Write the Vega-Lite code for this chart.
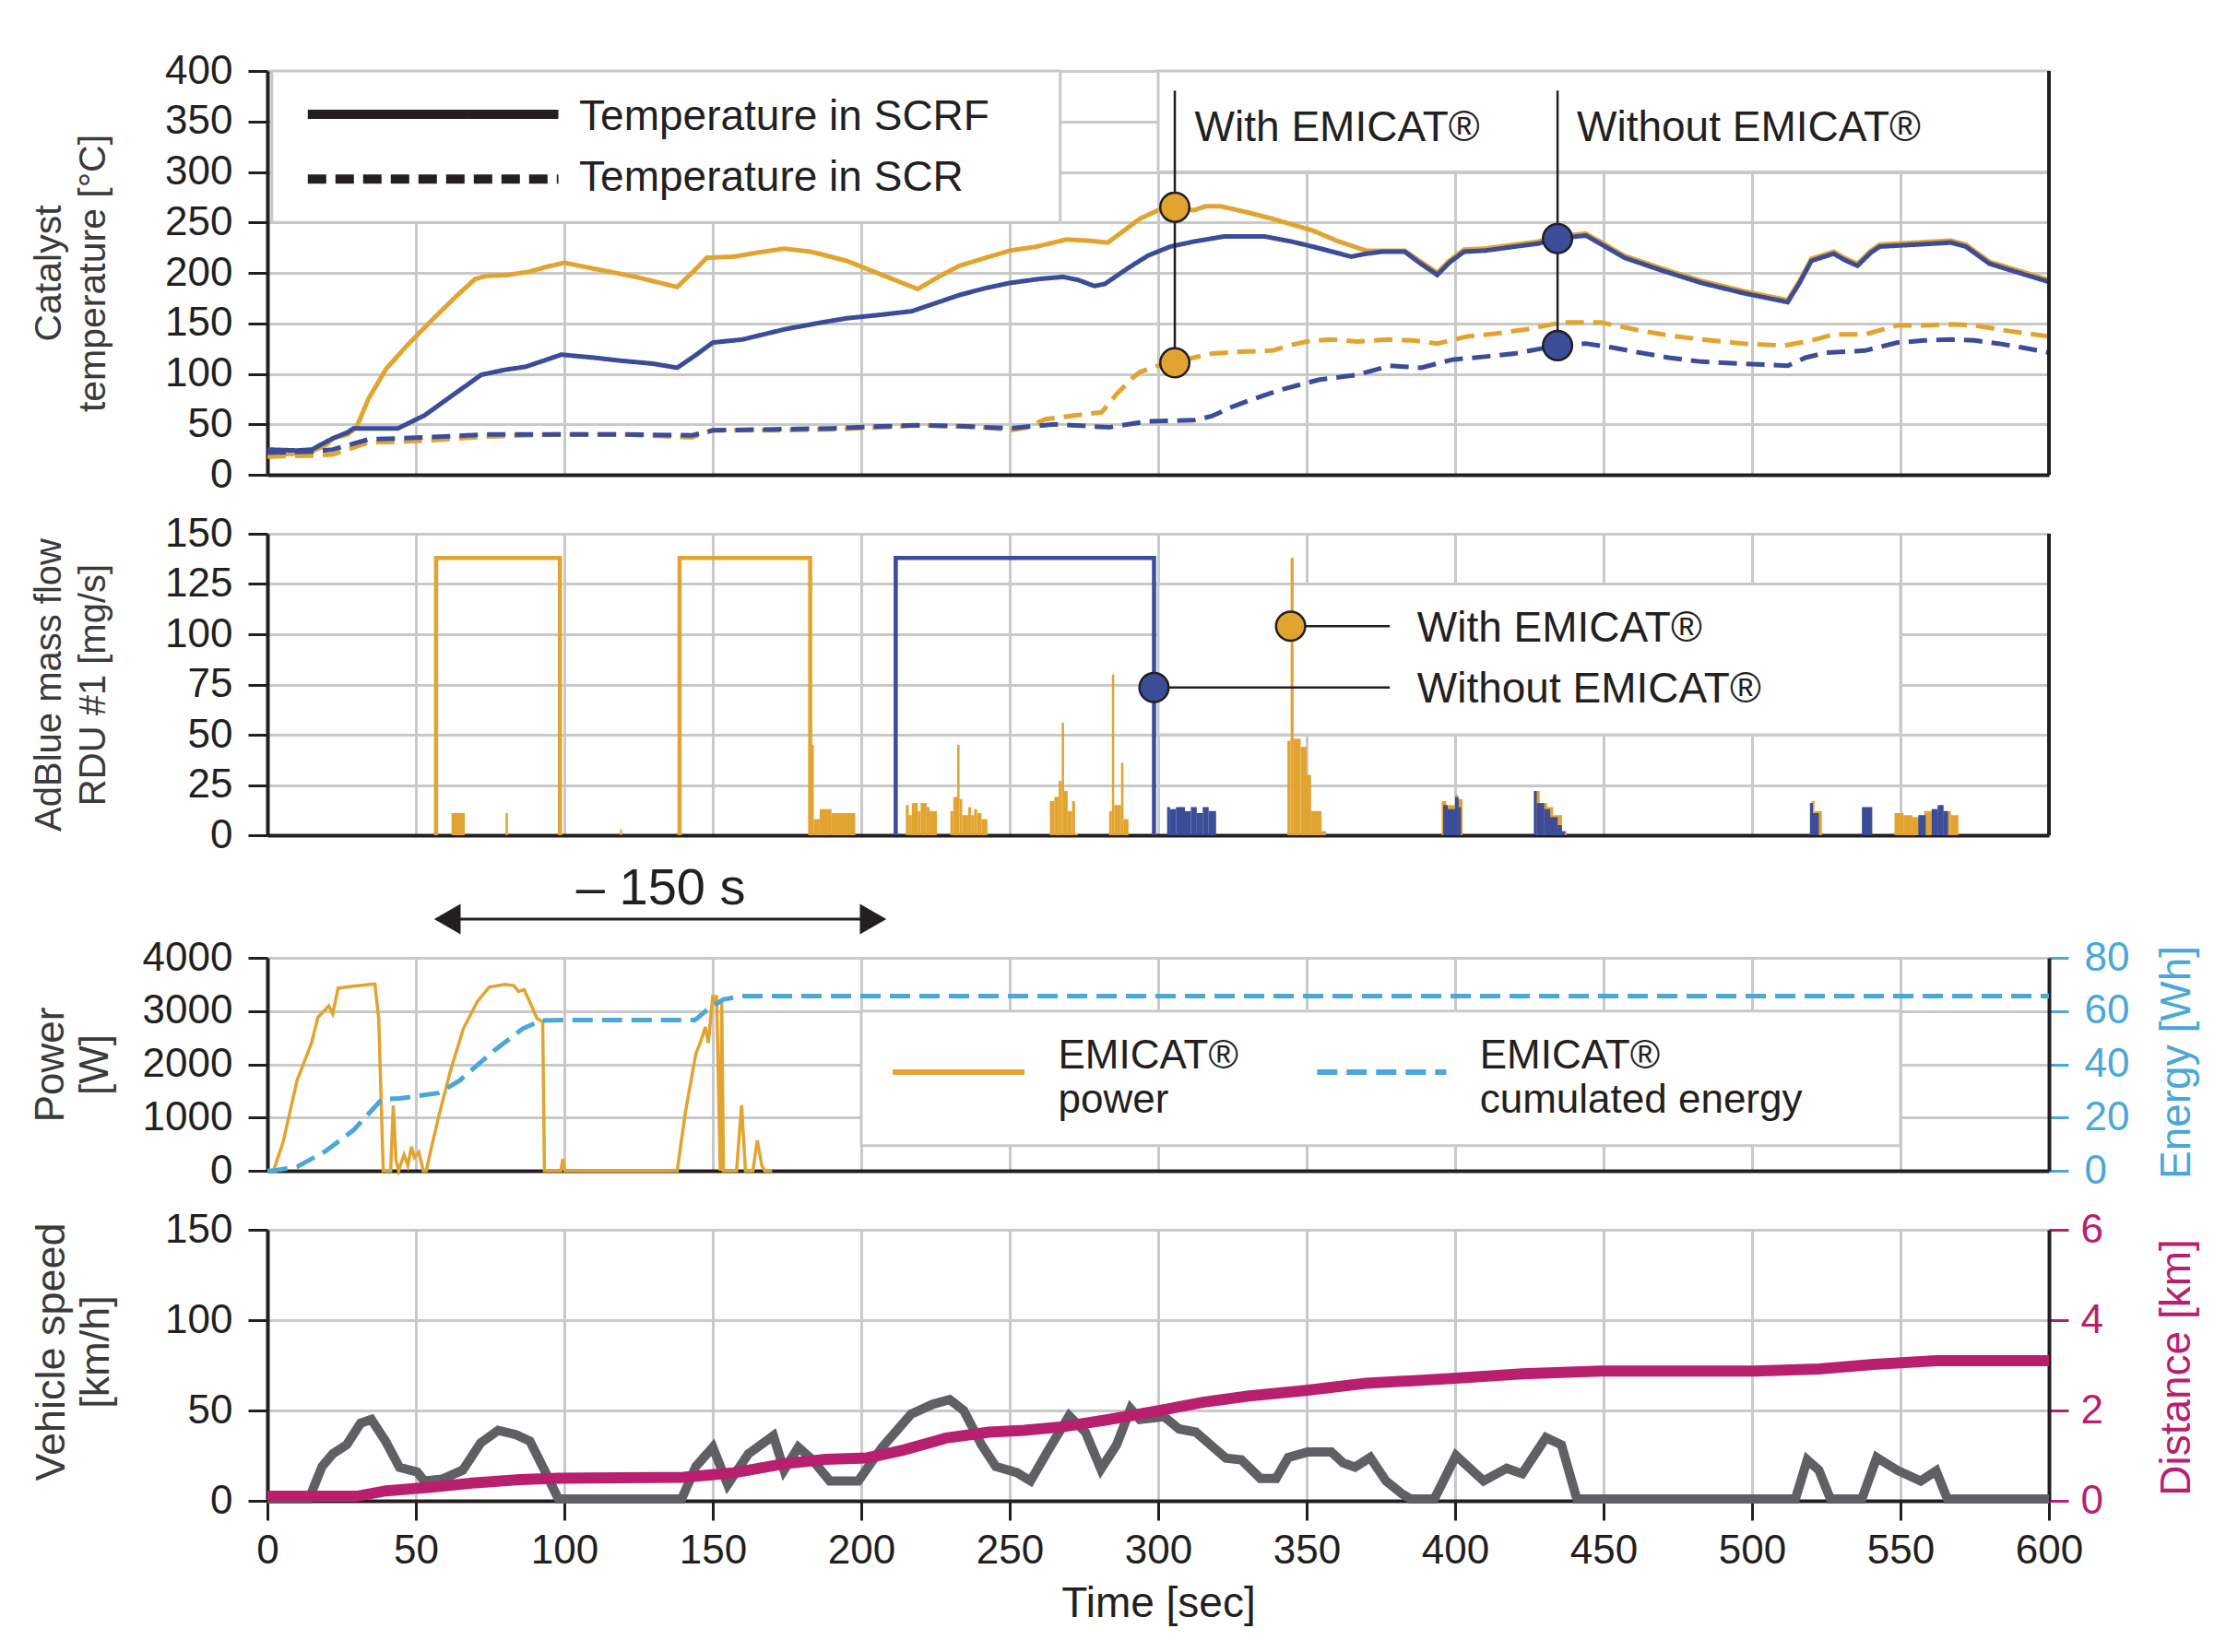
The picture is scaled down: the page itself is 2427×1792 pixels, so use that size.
{
 "$schema": "https://vega.github.io/schema/vega-lite/v6.json",
 "padding": {"left": 32, "top": 55, "right": 10, "bottom": 10},
 "background": "white",
 "bounds": "flush",
 "spacing": 64,
 "resolve": {"scale": {"x": "independent", "y": "independent"}},
 "config": {
  "view": {"stroke": null},
  "font": "Liberation Sans",
  "axis": {"gridColor": "#c9c9c9", "gridWidth": 3, "gridOpacity": 1, "domainColor": "#231f20", "domainWidth": 4, "tickColor": "#231f20", "tickWidth": 3, "tickSize": 21, "labelFont": "Liberation Sans", "labelFontSize": 44, "labelColor": "#231f20", "labelPadding": 17, "labelFlush": false, "labelOverlap": false, "format": "d", "titleFont": "Liberation Sans", "titleFontWeight": "normal", "titleFontSize": 42, "titleColor": "#3a3a3a", "titleLineHeight": 48},
  "text": {"font": "Liberation Sans", "fontSize": 46, "color": "#231f20"}
 },
 "datasets": {
  "temp": [
   {"t":0,"v":20,"cond":"With EMICAT®","loc":"SCRF"},{"t":10,"v":21,"cond":"With EMICAT®","loc":"SCRF"},{"t":15,"v":23,"cond":"With EMICAT®","loc":"SCRF"},{"t":20,"v":30,"cond":"With EMICAT®","loc":"SCRF"},{"t":22,"v":36,"cond":"With EMICAT®","loc":"SCRF"},{"t":27,"v":40,"cond":"With EMICAT®","loc":"SCRF"},{"t":30,"v":47,"cond":"With EMICAT®","loc":"SCRF"},{"t":34,"v":75,"cond":"With EMICAT®","loc":"SCRF"},{"t":40,"v":105,"cond":"With EMICAT®","loc":"SCRF"},{"t":47,"v":128,"cond":"With EMICAT®","loc":"SCRF"},{"t":55,"v":152,"cond":"With EMICAT®","loc":"SCRF"},{"t":64,"v":178,"cond":"With EMICAT®","loc":"SCRF"},{"t":70,"v":194,"cond":"With EMICAT®","loc":"SCRF"},{"t":74,"v":197,"cond":"With EMICAT®","loc":"SCRF"},{"t":81,"v":198,"cond":"With EMICAT®","loc":"SCRF"},{"t":88,"v":201,"cond":"With EMICAT®","loc":"SCRF"},{"t":94,"v":206,"cond":"With EMICAT®","loc":"SCRF"},{"t":100,"v":210,"cond":"With EMICAT®","loc":"SCRF"},{"t":112,"v":203,"cond":"With EMICAT®","loc":"SCRF"},{"t":124,"v":196,"cond":"With EMICAT®","loc":"SCRF"},{"t":138,"v":186,"cond":"With EMICAT®","loc":"SCRF"},{"t":143,"v":200,"cond":"With EMICAT®","loc":"SCRF"},{"t":148,"v":215,"cond":"With EMICAT®","loc":"SCRF"},{"t":157,"v":216,"cond":"With EMICAT®","loc":"SCRF"},{"t":165,"v":220,"cond":"With EMICAT®","loc":"SCRF"},{"t":174,"v":224,"cond":"With EMICAT®","loc":"SCRF"},{"t":183,"v":221,"cond":"With EMICAT®","loc":"SCRF"},{"t":195,"v":212,"cond":"With EMICAT®","loc":"SCRF"},{"t":207,"v":198,"cond":"With EMICAT®","loc":"SCRF"},{"t":219,"v":184,"cond":"With EMICAT®","loc":"SCRF"},{"t":226,"v":196,"cond":"With EMICAT®","loc":"SCRF"},{"t":233,"v":207,"cond":"With EMICAT®","loc":"SCRF"},{"t":242,"v":215,"cond":"With EMICAT®","loc":"SCRF"},{"t":250,"v":222,"cond":"With EMICAT®","loc":"SCRF"},{"t":259,"v":226,"cond":"With EMICAT®","loc":"SCRF"},{"t":269,"v":233,"cond":"With EMICAT®","loc":"SCRF"},{"t":276,"v":232,"cond":"With EMICAT®","loc":"SCRF"},{"t":283,"v":230,"cond":"With EMICAT®","loc":"SCRF"},{"t":289,"v":243,"cond":"With EMICAT®","loc":"SCRF"},{"t":294,"v":254,"cond":"With EMICAT®","loc":"SCRF"},{"t":300,"v":262,"cond":"With EMICAT®","loc":"SCRF"},{"t":305.6,"v":265,"cond":"With EMICAT®","loc":"SCRF"},{"t":312,"v":262,"cond":"With EMICAT®","loc":"SCRF"},{"t":316,"v":266,"cond":"With EMICAT®","loc":"SCRF"},{"t":321,"v":266,"cond":"With EMICAT®","loc":"SCRF"},{"t":330,"v":260,"cond":"With EMICAT®","loc":"SCRF"},{"t":338,"v":254,"cond":"With EMICAT®","loc":"SCRF"},{"t":345,"v":248,"cond":"With EMICAT®","loc":"SCRF"},{"t":352,"v":242,"cond":"With EMICAT®","loc":"SCRF"},{"t":360,"v":232,"cond":"With EMICAT®","loc":"SCRF"},{"t":370,"v":222,"cond":"With EMICAT®","loc":"SCRF"},{"t":376,"v":222,"cond":"With EMICAT®","loc":"SCRF"},{"t":383,"v":222,"cond":"With EMICAT®","loc":"SCRF"},{"t":388,"v":212,"cond":"With EMICAT®","loc":"SCRF"},{"t":394,"v":200,"cond":"With EMICAT®","loc":"SCRF"},{"t":398,"v":212,"cond":"With EMICAT®","loc":"SCRF"},{"t":403,"v":223,"cond":"With EMICAT®","loc":"SCRF"},{"t":410,"v":224,"cond":"With EMICAT®","loc":"SCRF"},{"t":420,"v":228,"cond":"With EMICAT®","loc":"SCRF"},{"t":428,"v":231,"cond":"With EMICAT®","loc":"SCRF"},{"t":434.5,"v":236,"cond":"With EMICAT®","loc":"SCRF"},{"t":444,"v":239,"cond":"With EMICAT®","loc":"SCRF"},{"t":450,"v":229,"cond":"With EMICAT®","loc":"SCRF"},{"t":457,"v":217,"cond":"With EMICAT®","loc":"SCRF"},{"t":470,"v":204,"cond":"With EMICAT®","loc":"SCRF"},{"t":483,"v":192,"cond":"With EMICAT®","loc":"SCRF"},{"t":497,"v":182,"cond":"With EMICAT®","loc":"SCRF"},{"t":512,"v":173,"cond":"With EMICAT®","loc":"SCRF"},{"t":516,"v":192,"cond":"With EMICAT®","loc":"SCRF"},{"t":520,"v":214,"cond":"With EMICAT®","loc":"SCRF"},{"t":527.5,"v":221,"cond":"With EMICAT®","loc":"SCRF"},{"t":531,"v":215,"cond":"With EMICAT®","loc":"SCRF"},{"t":535.5,"v":209,"cond":"With EMICAT®","loc":"SCRF"},{"t":540,"v":222,"cond":"With EMICAT®","loc":"SCRF"},{"t":543,"v":228,"cond":"With EMICAT®","loc":"SCRF"},{"t":555,"v":230,"cond":"With EMICAT®","loc":"SCRF"},{"t":567,"v":232,"cond":"With EMICAT®","loc":"SCRF"},{"t":572,"v":228,"cond":"With EMICAT®","loc":"SCRF"},{"t":580,"v":211,"cond":"With EMICAT®","loc":"SCRF"},{"t":590,"v":202,"cond":"With EMICAT®","loc":"SCRF"},{"t":600,"v":193,"cond":"With EMICAT®","loc":"SCRF"},
   {"t":0,"v":25,"cond":"Without EMICAT®","loc":"SCRF"},{"t":10,"v":24,"cond":"Without EMICAT®","loc":"SCRF"},{"t":15,"v":25,"cond":"Without EMICAT®","loc":"SCRF"},{"t":20,"v":33,"cond":"Without EMICAT®","loc":"SCRF"},{"t":22,"v":36,"cond":"Without EMICAT®","loc":"SCRF"},{"t":27,"v":42,"cond":"Without EMICAT®","loc":"SCRF"},{"t":29,"v":46,"cond":"Without EMICAT®","loc":"SCRF"},{"t":44,"v":46,"cond":"Without EMICAT®","loc":"SCRF"},{"t":53,"v":59,"cond":"Without EMICAT®","loc":"SCRF"},{"t":62,"v":78,"cond":"Without EMICAT®","loc":"SCRF"},{"t":72,"v":99,"cond":"Without EMICAT®","loc":"SCRF"},{"t":80,"v":104,"cond":"Without EMICAT®","loc":"SCRF"},{"t":87,"v":107,"cond":"Without EMICAT®","loc":"SCRF"},{"t":93,"v":113,"cond":"Without EMICAT®","loc":"SCRF"},{"t":99,"v":119,"cond":"Without EMICAT®","loc":"SCRF"},{"t":110,"v":116,"cond":"Without EMICAT®","loc":"SCRF"},{"t":119,"v":113,"cond":"Without EMICAT®","loc":"SCRF"},{"t":130,"v":110,"cond":"Without EMICAT®","loc":"SCRF"},{"t":138,"v":106,"cond":"Without EMICAT®","loc":"SCRF"},{"t":144,"v":118,"cond":"Without EMICAT®","loc":"SCRF"},{"t":150,"v":131,"cond":"Without EMICAT®","loc":"SCRF"},{"t":160,"v":134,"cond":"Without EMICAT®","loc":"SCRF"},{"t":167,"v":139,"cond":"Without EMICAT®","loc":"SCRF"},{"t":174,"v":144,"cond":"Without EMICAT®","loc":"SCRF"},{"t":185,"v":150,"cond":"Without EMICAT®","loc":"SCRF"},{"t":195,"v":155,"cond":"Without EMICAT®","loc":"SCRF"},{"t":205,"v":158,"cond":"Without EMICAT®","loc":"SCRF"},{"t":217,"v":162,"cond":"Without EMICAT®","loc":"SCRF"},{"t":225,"v":170,"cond":"Without EMICAT®","loc":"SCRF"},{"t":233,"v":178,"cond":"Without EMICAT®","loc":"SCRF"},{"t":242,"v":185,"cond":"Without EMICAT®","loc":"SCRF"},{"t":250,"v":190,"cond":"Without EMICAT®","loc":"SCRF"},{"t":260,"v":194,"cond":"Without EMICAT®","loc":"SCRF"},{"t":268,"v":196,"cond":"Without EMICAT®","loc":"SCRF"},{"t":273,"v":193,"cond":"Without EMICAT®","loc":"SCRF"},{"t":278.5,"v":187,"cond":"Without EMICAT®","loc":"SCRF"},{"t":282,"v":189,"cond":"Without EMICAT®","loc":"SCRF"},{"t":290,"v":205,"cond":"Without EMICAT®","loc":"SCRF"},{"t":296.5,"v":217,"cond":"Without EMICAT®","loc":"SCRF"},{"t":304,"v":226,"cond":"Without EMICAT®","loc":"SCRF"},{"t":312,"v":231,"cond":"Without EMICAT®","loc":"SCRF"},{"t":322,"v":236,"cond":"Without EMICAT®","loc":"SCRF"},{"t":336,"v":236,"cond":"Without EMICAT®","loc":"SCRF"},{"t":345,"v":231,"cond":"Without EMICAT®","loc":"SCRF"},{"t":352,"v":226,"cond":"Without EMICAT®","loc":"SCRF"},{"t":360,"v":220,"cond":"Without EMICAT®","loc":"SCRF"},{"t":365,"v":216,"cond":"Without EMICAT®","loc":"SCRF"},{"t":370,"v":219,"cond":"Without EMICAT®","loc":"SCRF"},{"t":375.5,"v":221,"cond":"Without EMICAT®","loc":"SCRF"},{"t":383,"v":221,"cond":"Without EMICAT®","loc":"SCRF"},{"t":388,"v":210,"cond":"Without EMICAT®","loc":"SCRF"},{"t":394,"v":198,"cond":"Without EMICAT®","loc":"SCRF"},{"t":398,"v":210,"cond":"Without EMICAT®","loc":"SCRF"},{"t":403,"v":221,"cond":"Without EMICAT®","loc":"SCRF"},{"t":410,"v":222,"cond":"Without EMICAT®","loc":"SCRF"},{"t":420,"v":226,"cond":"Without EMICAT®","loc":"SCRF"},{"t":428,"v":229,"cond":"Without EMICAT®","loc":"SCRF"},{"t":434.5,"v":234,"cond":"Without EMICAT®","loc":"SCRF"},{"t":444,"v":237,"cond":"Without EMICAT®","loc":"SCRF"},{"t":450,"v":227,"cond":"Without EMICAT®","loc":"SCRF"},{"t":457,"v":215,"cond":"Without EMICAT®","loc":"SCRF"},{"t":470,"v":202,"cond":"Without EMICAT®","loc":"SCRF"},{"t":483,"v":190,"cond":"Without EMICAT®","loc":"SCRF"},{"t":497,"v":180,"cond":"Without EMICAT®","loc":"SCRF"},{"t":512,"v":171,"cond":"Without EMICAT®","loc":"SCRF"},{"t":516,"v":190,"cond":"Without EMICAT®","loc":"SCRF"},{"t":520,"v":212,"cond":"Without EMICAT®","loc":"SCRF"},{"t":527.5,"v":219,"cond":"Without EMICAT®","loc":"SCRF"},{"t":531,"v":213,"cond":"Without EMICAT®","loc":"SCRF"},{"t":535.5,"v":207,"cond":"Without EMICAT®","loc":"SCRF"},{"t":540,"v":220,"cond":"Without EMICAT®","loc":"SCRF"},{"t":543,"v":226,"cond":"Without EMICAT®","loc":"SCRF"},{"t":555,"v":228,"cond":"Without EMICAT®","loc":"SCRF"},{"t":567,"v":230,"cond":"Without EMICAT®","loc":"SCRF"},{"t":572,"v":226,"cond":"Without EMICAT®","loc":"SCRF"},{"t":580,"v":209,"cond":"Without EMICAT®","loc":"SCRF"},{"t":590,"v":200,"cond":"Without EMICAT®","loc":"SCRF"},{"t":600,"v":191,"cond":"Without EMICAT®","loc":"SCRF"},
   {"t":0,"v":18,"cond":"With EMICAT®","loc":"SCR"},{"t":15,"v":19,"cond":"With EMICAT®","loc":"SCR"},{"t":22,"v":20,"cond":"With EMICAT®","loc":"SCR"},{"t":28,"v":26,"cond":"With EMICAT®","loc":"SCR"},{"t":34,"v":32,"cond":"With EMICAT®","loc":"SCR"},{"t":47,"v":33,"cond":"With EMICAT®","loc":"SCR"},{"t":60,"v":35,"cond":"With EMICAT®","loc":"SCR"},{"t":74,"v":38,"cond":"With EMICAT®","loc":"SCR"},{"t":100,"v":40,"cond":"With EMICAT®","loc":"SCR"},{"t":120,"v":40,"cond":"With EMICAT®","loc":"SCR"},{"t":143,"v":37,"cond":"With EMICAT®","loc":"SCR"},{"t":150,"v":44,"cond":"With EMICAT®","loc":"SCR"},{"t":171,"v":44,"cond":"With EMICAT®","loc":"SCR"},{"t":190,"v":45,"cond":"With EMICAT®","loc":"SCR"},{"t":207,"v":47,"cond":"With EMICAT®","loc":"SCR"},{"t":219,"v":49,"cond":"With EMICAT®","loc":"SCR"},{"t":235,"v":48,"cond":"With EMICAT®","loc":"SCR"},{"t":245,"v":46,"cond":"With EMICAT®","loc":"SCR"},{"t":250,"v":44,"cond":"With EMICAT®","loc":"SCR"},{"t":256,"v":47,"cond":"With EMICAT®","loc":"SCR"},{"t":262,"v":55,"cond":"With EMICAT®","loc":"SCR"},{"t":270,"v":58,"cond":"With EMICAT®","loc":"SCR"},{"t":281,"v":62,"cond":"With EMICAT®","loc":"SCR"},{"t":286,"v":80,"cond":"With EMICAT®","loc":"SCR"},{"t":291,"v":95,"cond":"With EMICAT®","loc":"SCR"},{"t":294,"v":102,"cond":"With EMICAT®","loc":"SCR"},{"t":300,"v":108,"cond":"With EMICAT®","loc":"SCR"},{"t":305.6,"v":111,"cond":"With EMICAT®","loc":"SCR"},{"t":312,"v":116,"cond":"With EMICAT®","loc":"SCR"},{"t":318,"v":120,"cond":"With EMICAT®","loc":"SCR"},{"t":328,"v":122,"cond":"With EMICAT®","loc":"SCR"},{"t":338.5,"v":123,"cond":"With EMICAT®","loc":"SCR"},{"t":344,"v":128,"cond":"With EMICAT®","loc":"SCR"},{"t":350,"v":132,"cond":"With EMICAT®","loc":"SCR"},{"t":358,"v":134,"cond":"With EMICAT®","loc":"SCR"},{"t":367,"v":132,"cond":"With EMICAT®","loc":"SCR"},{"t":377,"v":134,"cond":"With EMICAT®","loc":"SCR"},{"t":386,"v":133,"cond":"With EMICAT®","loc":"SCR"},{"t":394,"v":130,"cond":"With EMICAT®","loc":"SCR"},{"t":404,"v":137,"cond":"With EMICAT®","loc":"SCR"},{"t":414,"v":140,"cond":"With EMICAT®","loc":"SCR"},{"t":424,"v":144,"cond":"With EMICAT®","loc":"SCR"},{"t":436,"v":151,"cond":"With EMICAT®","loc":"SCR"},{"t":449,"v":151,"cond":"With EMICAT®","loc":"SCR"},{"t":462,"v":143,"cond":"With EMICAT®","loc":"SCR"},{"t":472,"v":138,"cond":"With EMICAT®","loc":"SCR"},{"t":483,"v":134,"cond":"With EMICAT®","loc":"SCR"},{"t":497,"v":130,"cond":"With EMICAT®","loc":"SCR"},{"t":511,"v":128,"cond":"With EMICAT®","loc":"SCR"},{"t":520,"v":133,"cond":"With EMICAT®","loc":"SCR"},{"t":527.5,"v":139,"cond":"With EMICAT®","loc":"SCR"},{"t":538,"v":139,"cond":"With EMICAT®","loc":"SCR"},{"t":549,"v":148,"cond":"With EMICAT®","loc":"SCR"},{"t":558,"v":148,"cond":"With EMICAT®","loc":"SCR"},{"t":567,"v":149,"cond":"With EMICAT®","loc":"SCR"},{"t":575,"v":148,"cond":"With EMICAT®","loc":"SCR"},{"t":583,"v":144,"cond":"With EMICAT®","loc":"SCR"},{"t":590,"v":141,"cond":"With EMICAT®","loc":"SCR"},{"t":600,"v":137,"cond":"With EMICAT®","loc":"SCR"},
   {"t":0,"v":22,"cond":"Without EMICAT®","loc":"SCR"},{"t":15,"v":23,"cond":"Without EMICAT®","loc":"SCR"},{"t":22,"v":25,"cond":"Without EMICAT®","loc":"SCR"},{"t":28,"v":30,"cond":"Without EMICAT®","loc":"SCR"},{"t":34,"v":35,"cond":"Without EMICAT®","loc":"SCR"},{"t":53,"v":37,"cond":"Without EMICAT®","loc":"SCR"},{"t":74,"v":40,"cond":"Without EMICAT®","loc":"SCR"},{"t":100,"v":40,"cond":"Without EMICAT®","loc":"SCR"},{"t":120,"v":40,"cond":"Without EMICAT®","loc":"SCR"},{"t":143,"v":39,"cond":"Without EMICAT®","loc":"SCR"},{"t":150,"v":44,"cond":"Without EMICAT®","loc":"SCR"},{"t":171,"v":45,"cond":"Without EMICAT®","loc":"SCR"},{"t":190,"v":46,"cond":"Without EMICAT®","loc":"SCR"},{"t":207,"v":48,"cond":"Without EMICAT®","loc":"SCR"},{"t":219,"v":49,"cond":"Without EMICAT®","loc":"SCR"},{"t":235,"v":48,"cond":"Without EMICAT®","loc":"SCR"},{"t":250,"v":46,"cond":"Without EMICAT®","loc":"SCR"},{"t":265,"v":50,"cond":"Without EMICAT®","loc":"SCR"},{"t":283.5,"v":47,"cond":"Without EMICAT®","loc":"SCR"},{"t":296.5,"v":53,"cond":"Without EMICAT®","loc":"SCR"},{"t":312,"v":54,"cond":"Without EMICAT®","loc":"SCR"},{"t":318,"v":58,"cond":"Without EMICAT®","loc":"SCR"},{"t":325.5,"v":68,"cond":"Without EMICAT®","loc":"SCR"},{"t":333,"v":76,"cond":"Without EMICAT®","loc":"SCR"},{"t":341,"v":84,"cond":"Without EMICAT®","loc":"SCR"},{"t":354,"v":94,"cond":"Without EMICAT®","loc":"SCR"},{"t":367,"v":99,"cond":"Without EMICAT®","loc":"SCR"},{"t":378,"v":108,"cond":"Without EMICAT®","loc":"SCR"},{"t":388.5,"v":106,"cond":"Without EMICAT®","loc":"SCR"},{"t":399,"v":114,"cond":"Without EMICAT®","loc":"SCR"},{"t":410,"v":117,"cond":"Without EMICAT®","loc":"SCR"},{"t":420,"v":120,"cond":"Without EMICAT®","loc":"SCR"},{"t":434.5,"v":128,"cond":"Without EMICAT®","loc":"SCR"},{"t":444,"v":130,"cond":"Without EMICAT®","loc":"SCR"},{"t":453,"v":126,"cond":"Without EMICAT®","loc":"SCR"},{"t":462,"v":121,"cond":"Without EMICAT®","loc":"SCR"},{"t":472,"v":116,"cond":"Without EMICAT®","loc":"SCR"},{"t":483,"v":112,"cond":"Without EMICAT®","loc":"SCR"},{"t":497,"v":110,"cond":"Without EMICAT®","loc":"SCR"},{"t":512,"v":108,"cond":"Without EMICAT®","loc":"SCR"},{"t":518,"v":116,"cond":"Without EMICAT®","loc":"SCR"},{"t":525,"v":121,"cond":"Without EMICAT®","loc":"SCR"},{"t":538,"v":123,"cond":"Without EMICAT®","loc":"SCR"},{"t":549,"v":131,"cond":"Without EMICAT®","loc":"SCR"},{"t":558,"v":133,"cond":"Without EMICAT®","loc":"SCR"},{"t":567,"v":134,"cond":"Without EMICAT®","loc":"SCR"},{"t":575,"v":133,"cond":"Without EMICAT®","loc":"SCR"},{"t":583,"v":130,"cond":"Without EMICAT®","loc":"SCR"},{"t":591,"v":126,"cond":"Without EMICAT®","loc":"SCR"},{"t":600,"v":121,"cond":"Without EMICAT®","loc":"SCR"}
  ],
  "outline": [
   {"t":56.8,"v":0,"cond":"With EMICAT®","seg":"a","i":1},{"t":56.8,"v":138,"cond":"With EMICAT®","seg":"a","i":2},{"t":98.5,"v":138,"cond":"With EMICAT®","seg":"a","i":3},{"t":98.5,"v":0,"cond":"With EMICAT®","seg":"a","i":4},
   {"t":138.8,"v":0,"cond":"With EMICAT®","seg":"b","i":1},{"t":138.8,"v":138,"cond":"With EMICAT®","seg":"b","i":2},{"t":182.8,"v":138,"cond":"With EMICAT®","seg":"b","i":3},{"t":182.8,"v":0,"cond":"With EMICAT®","seg":"b","i":4},
   {"t":211.6,"v":0,"cond":"Without EMICAT®","seg":"c","i":1},{"t":211.6,"v":138,"cond":"Without EMICAT®","seg":"c","i":2},{"t":298.6,"v":138,"cond":"Without EMICAT®","seg":"c","i":3},{"t":298.6,"v":0,"cond":"Without EMICAT®","seg":"c","i":4}
  ],
  "bars": [
   {"t":62,"t1":66.5,"v":11,"cond":"With EMICAT®"},{"t":80.2,"t1":81,"v":11,"cond":"With EMICAT®"},{"t":118.8,"t1":119.4,"v":3,"cond":"With EMICAT®"},{"t":183,"t1":184,"v":45,"cond":"With EMICAT®"},{"t":184,"t1":186,"v":8,"cond":"With EMICAT®"},{"t":186,"t1":190,"v":13,"cond":"With EMICAT®"},{"t":190,"t1":198,"v":11,"cond":"With EMICAT®"},
   {"t":215,"t1":216,"v":15,"cond":"With EMICAT®"},{"t":216,"t1":217,"v":10,"cond":"With EMICAT®"},{"t":217,"t1":219,"v":16,"cond":"With EMICAT®"},{"t":219,"t1":220,"v":12,"cond":"With EMICAT®"},{"t":220,"t1":222,"v":16,"cond":"With EMICAT®"},{"t":222,"t1":223,"v":14,"cond":"With EMICAT®"},{"t":223,"t1":225.5,"v":12,"cond":"With EMICAT®"},
   {"t":230,"t1":231,"v":12,"cond":"With EMICAT®"},{"t":231,"t1":232.3,"v":19,"cond":"With EMICAT®"},{"t":232.3,"t1":233.1,"v":45,"cond":"With EMICAT®"},{"t":233.1,"t1":234,"v":18,"cond":"With EMICAT®"},{"t":234,"t1":236,"v":10,"cond":"With EMICAT®"},{"t":236,"t1":237,"v":14,"cond":"With EMICAT®"},{"t":237,"t1":238,"v":10,"cond":"With EMICAT®"},{"t":238,"t1":239,"v":13,"cond":"With EMICAT®"},{"t":239,"t1":240.5,"v":11,"cond":"With EMICAT®"},{"t":240.5,"t1":242.5,"v":8,"cond":"With EMICAT®"},
   {"t":263.5,"t1":265,"v":17,"cond":"With EMICAT®"},{"t":265,"t1":266.5,"v":19,"cond":"With EMICAT®"},{"t":266.5,"t1":267.5,"v":27,"cond":"With EMICAT®"},{"t":267.5,"t1":268.3,"v":56,"cond":"With EMICAT®"},{"t":268.3,"t1":269.5,"v":22,"cond":"With EMICAT®"},{"t":269.5,"t1":271,"v":12,"cond":"With EMICAT®"},{"t":271,"t1":272,"v":17,"cond":"With EMICAT®"},{"t":272,"t1":273,"v":1,"cond":"With EMICAT®"},
   {"t":283.5,"t1":284.4,"v":12,"cond":"With EMICAT®"},{"t":284.4,"t1":285.2,"v":80,"cond":"With EMICAT®"},{"t":285.2,"t1":287.5,"v":15,"cond":"With EMICAT®"},{"t":287.5,"t1":288.3,"v":36,"cond":"With EMICAT®"},{"t":288.3,"t1":290,"v":8,"cond":"With EMICAT®"},
   {"t":343.5,"t1":344.6,"v":47,"cond":"With EMICAT®"},{"t":344.6,"t1":345.6,"v":138,"cond":"With EMICAT®"},{"t":345.6,"t1":348,"v":48,"cond":"With EMICAT®"},{"t":348,"t1":350,"v":44,"cond":"With EMICAT®"},{"t":350,"t1":351.5,"v":30,"cond":"With EMICAT®"},{"t":351.5,"t1":355,"v":12,"cond":"With EMICAT®"},{"t":355,"t1":356.5,"v":2,"cond":"With EMICAT®"},
   {"t":395.5,"t1":397,"v":17,"cond":"With EMICAT®"},{"t":397,"t1":400,"v":15,"cond":"With EMICAT®"},{"t":400,"t1":401,"v":20,"cond":"With EMICAT®"},{"t":401,"t1":402.5,"v":18,"cond":"With EMICAT®"},
   {"t":427,"t1":428.5,"v":22,"cond":"With EMICAT®"},{"t":428.5,"t1":431,"v":16,"cond":"With EMICAT®"},{"t":431,"t1":433,"v":14,"cond":"With EMICAT®"},{"t":433,"t1":436,"v":10,"cond":"With EMICAT®"},{"t":436,"t1":437.5,"v":2,"cond":"With EMICAT®"},
   {"t":520,"t1":521,"v":17,"cond":"With EMICAT®"},{"t":521,"t1":523.5,"v":12,"cond":"With EMICAT®"},
   {"t":548,"t1":551,"v":11,"cond":"With EMICAT®"},{"t":551,"t1":554,"v":10,"cond":"With EMICAT®"},{"t":554,"t1":558,"v":9,"cond":"With EMICAT®"},{"t":558,"t1":563,"v":12,"cond":"With EMICAT®"},{"t":563,"t1":567,"v":12,"cond":"With EMICAT®"},{"t":567,"t1":569.5,"v":10,"cond":"With EMICAT®"},
   {"t":303,"t1":304,"v":14,"cond":"Without EMICAT®"},{"t":304,"t1":306,"v":13,"cond":"Without EMICAT®"},{"t":306,"t1":309,"v":14,"cond":"Without EMICAT®"},{"t":309,"t1":311,"v":12,"cond":"Without EMICAT®"},{"t":311,"t1":313,"v":14,"cond":"Without EMICAT®"},{"t":313,"t1":315,"v":11,"cond":"Without EMICAT®"},{"t":315,"t1":317,"v":14,"cond":"Without EMICAT®"},{"t":317,"t1":319.5,"v":12,"cond":"Without EMICAT®"},
   {"t":396,"t1":397.5,"v":15,"cond":"Without EMICAT®"},{"t":397.5,"t1":400,"v":13,"cond":"Without EMICAT®"},{"t":400,"t1":401.2,"v":19,"cond":"Without EMICAT®"},{"t":401.2,"t1":402,"v":14,"cond":"Without EMICAT®"},
   {"t":426.5,"t1":427.5,"v":22,"cond":"Without EMICAT®"},{"t":427.5,"t1":430,"v":16,"cond":"Without EMICAT®"},{"t":430,"t1":432,"v":13,"cond":"Without EMICAT®"},{"t":432,"t1":434.5,"v":9,"cond":"Without EMICAT®"},{"t":434.5,"t1":436,"v":5,"cond":"Without EMICAT®"},{"t":436,"t1":437,"v":2,"cond":"Without EMICAT®"},
   {"t":519.5,"t1":520.5,"v":16,"cond":"Without EMICAT®"},{"t":520.5,"t1":522.5,"v":11,"cond":"Without EMICAT®"},
   {"t":537,"t1":540.5,"v":14,"cond":"Without EMICAT®"},
   {"t":556,"t1":558.5,"v":10,"cond":"Without EMICAT®"},{"t":560.5,"t1":562.5,"v":13,"cond":"Without EMICAT®"},{"t":562.5,"t1":564.5,"v":15,"cond":"Without EMICAT®"},{"t":564.5,"t1":566,"v":12,"cond":"Without EMICAT®"}
  ],
  "power": [
   {"t":0,"v":0},{"t":2,"v":0},{"t":5.3,"v":540},{"t":10,"v":1700},{"t":14.8,"v":2390},{"t":17,"v":2880},{"t":20.7,"v":3100},{"t":22,"v":2950},{"t":23.8,"v":3430},{"t":27.7,"v":3460},{"t":32.6,"v":3490},{"t":36.2,"v":3510},{"t":37.5,"v":2850},{"t":39,"v":0},{"t":41.5,"v":0},{"t":42.4,"v":1230},{"t":43.3,"v":200},{"t":44.2,"v":0},{"t":46,"v":300},{"t":47.3,"v":100},{"t":48.5,"v":450},{"t":49.5,"v":250},{"t":51,"v":350},{"t":52.5,"v":0},{"t":53.5,"v":0},{"t":55.5,"v":500},{"t":57.6,"v":1000},{"t":61.6,"v":1870},{"t":66,"v":2670},{"t":70.7,"v":3180},{"t":74.7,"v":3450},{"t":80,"v":3500},{"t":83,"v":3480},{"t":84.5,"v":3370},{"t":86.5,"v":3400},{"t":88.4,"v":3170},{"t":90.8,"v":2860},{"t":92.7,"v":2800},{"t":93.3,"v":0},{"t":98.8,"v":0},{"t":99.5,"v":225},{"t":100.2,"v":0},{"t":138,"v":0},{"t":140.8,"v":1110},{"t":144.3,"v":2200},{"t":146,"v":2440},{"t":147.5,"v":2700},{"t":148.5,"v":2400},{"t":150,"v":3300},{"t":150.7,"v":3150},{"t":151.3,"v":3300},{"t":152.5,"v":0},{"t":153,"v":3220},{"t":153.6,"v":0},{"t":158,"v":0},{"t":159.7,"v":1230},{"t":161,"v":0},{"t":163.5,"v":0},{"t":165,"v":570},{"t":166.5,"v":100},{"t":167.5,"v":0},{"t":170,"v":0}
  ],
  "energy": [
   {"t":0,"e":0},{"t":1.7,"e":0},{"t":10,"e":1.5},{"t":19.5,"e":7.3},{"t":29,"e":15.3},{"t":38.6,"e":26.9},{"t":44.7,"e":27.2},{"t":57.6,"e":29.2},{"t":64.7,"e":33.9},{"t":76.6,"e":45.4},{"t":86,"e":53.4},{"t":92,"e":56.4},{"t":100,"e":56.6},{"t":144,"e":56.6},{"t":148,"e":60.4},{"t":153.6,"e":64.4},{"t":159.7,"e":65.6},{"t":600,"e":65.6}
  ],
  "speed": [
   {"t":0,"v":1},{"t":14,"v":1},{"t":18.4,"v":19},{"t":22,"v":26},{"t":26.7,"v":31},{"t":31.4,"v":43},{"t":35,"v":45},{"t":39.8,"v":33},{"t":44.5,"v":18.5},{"t":50.4,"v":16},{"t":52.8,"v":11},{"t":58.8,"v":12},{"t":65.8,"v":17},{"t":71.8,"v":32},{"t":77.7,"v":39},{"t":83.7,"v":36.6},{"t":88.4,"v":33},{"t":93.3,"v":17},{"t":98,"v":1},{"t":139.5,"v":1},{"t":144.3,"v":19},{"t":150,"v":29.6},{"t":155,"v":9},{"t":162,"v":26},{"t":170.4,"v":36},{"t":174,"v":17},{"t":178.8,"v":29.6},{"t":183.6,"v":22.6},{"t":189.4,"v":11},{"t":199,"v":11},{"t":207,"v":29.6},{"t":216.8,"v":48},{"t":224,"v":53.4},{"t":229.8,"v":56},{"t":234.5,"v":50},{"t":240.5,"v":31},{"t":245.3,"v":19},{"t":252.4,"v":15.6},{"t":257,"v":11},{"t":263.7,"v":30},{"t":270,"v":47},{"t":275.5,"v":38},{"t":280.7,"v":17.6},{"t":286,"v":31},{"t":290.7,"v":51},{"t":293.8,"v":45},{"t":302,"v":46.6},{"t":307,"v":39.8},{"t":312.7,"v":38},{"t":317.6,"v":31},{"t":322.8,"v":23.6},{"t":328,"v":22.7},{"t":334.4,"v":12.4},{"t":339.7,"v":12.4},{"t":343.8,"v":24},{"t":350.3,"v":27},{"t":358.3,"v":27},{"t":362.3,"v":21},{"t":366.3,"v":18.6},{"t":371.4,"v":24},{"t":376.7,"v":11},{"t":382,"v":4},{"t":385,"v":1},{"t":393,"v":1},{"t":400.3,"v":25},{"t":409.6,"v":11},{"t":417.4,"v":18},{"t":422.6,"v":15},{"t":430.6,"v":35},{"t":435.8,"v":31},{"t":441,"v":1},{"t":514.6,"v":1},{"t":518.6,"v":22.6},{"t":522.5,"v":17},{"t":526.4,"v":1},{"t":537,"v":1},{"t":542,"v":24},{"t":548.8,"v":17},{"t":556.8,"v":11},{"t":562,"v":16.6},{"t":565.8,"v":1},{"t":600,"v":1}
  ],
  "distance": [
   {"t":0,"d":0.1},{"t":30,"d":0.1},{"t":40,"d":0.22},{"t":55,"d":0.3},{"t":70,"d":0.4},{"t":85,"d":0.47},{"t":98,"d":0.5},{"t":140,"d":0.52},{"t":157,"d":0.62},{"t":174,"d":0.82},{"t":188,"d":0.92},{"t":202,"d":0.95},{"t":214,"d":1.12},{"t":228.6,"d":1.39},{"t":243,"d":1.52},{"t":255,"d":1.56},{"t":268,"d":1.64},{"t":283.5,"d":1.8},{"t":299,"d":1.98},{"t":315,"d":2.18},{"t":330.6,"d":2.32},{"t":349,"d":2.44},{"t":370,"d":2.6},{"t":399,"d":2.71},{"t":422.6,"d":2.81},{"t":449,"d":2.87},{"t":501,"d":2.87},{"t":522.5,"d":2.92},{"t":541,"d":3.02},{"t":562,"d":3.1},{"t":575,"d":3.1},{"t":600,"d":3.1}
  ]
 },
 "vconcat": [
  {
   "width": 1932, "height": 438,
   "encoding": {
    "x": {"field": "t", "type": "quantitative", "scale": {"domain": [0, 600], "nice": false, "zero": false}, "axis": {"values": [0,50,100,150,200,250,300,350,400,450,500,550,600], "labels": false, "ticks": false, "title": null}},
    "y": {"field": "v", "type": "quantitative", "scale": {"domain": [0, 400], "nice": false}, "axis": {"values": [0,50,100,150,200,250,300,350,400], "title": ["Catalyst", "temperature [°C]"], "titleX": -257, "titleY": 219, "titleAngle": 270, "titleBaseline": "top", "titleAlign": "center", "titleFontSize": 41}}
   },
   "layer": [
    {"data": {"values": [{"t": 1.5, "t1": 267, "v": 250, "v1": 400}, {"t": 300, "t1": 600, "v": 300, "v1": 400}]},
     "mark": {"type": "rect", "fill": "white", "stroke": "#c9c9c9", "strokeWidth": 3},
     "encoding": {"x2": {"field": "t1"}, "y2": {"field": "v1"}}},
    {"data": {"name": "temp"},
     "mark": {"type": "line", "strokeWidth": 5},
     "encoding": {
      "color": {"field": "cond", "type": "nominal", "scale": {"domain": ["With EMICAT®", "Without EMICAT®"], "range": ["#e2a431", "#3b4c99"]}, "legend": null},
      "strokeDash": {"field": "loc", "type": "nominal", "scale": {"domain": ["SCRF", "SCR"], "range": [[1, 0], [20, 10]]}, "legend": null}
     }},
    {"data": {"values": [{"t": 305.6, "v": 111, "v1": 380.5}, {"t": 434.5, "v": 128, "v1": 380.5}]},
     "mark": {"type": "rule", "color": "#231f20", "strokeWidth": 2.5},
     "encoding": {"y2": {"field": "v1"}}},
    {"data": {"values": [{"t": 305.6, "v": 265, "cond": "With EMICAT®"}, {"t": 305.6, "v": 111, "cond": "With EMICAT®"}, {"t": 434.5, "v": 234, "cond": "Without EMICAT®"}, {"t": 434.5, "v": 128, "cond": "Without EMICAT®"}]},
     "mark": {"type": "point", "shape": "circle", "filled": true, "size": 1000, "stroke": "#231f20", "strokeWidth": 2.5, "opacity": 1},
     "encoding": {"fill": {"field": "cond", "type": "nominal", "scale": {"domain": ["With EMICAT®", "Without EMICAT®"], "range": ["#e2a431", "#3b4c99"]}, "legend": null}}},
    {"data": {"values": [{"t": 312.3, "v": 330.6, "label": "With EMICAT®"}, {"t": 441, "v": 330.6, "label": "Without EMICAT®"}]},
     "mark": {"type": "text", "align": "left", "baseline": "alphabetic", "fontSize": 46},
     "encoding": {"text": {"field": "label"}}},
    {"data": {"values": [{"t": 13.6, "t1": 98, "v": 357, "loc": "SCRF"}, {"t": 13.6, "t1": 98, "v": 293, "loc": "SCR"}]},
     "mark": {"type": "rule", "color": "#231f20", "strokeWidth": 10},
     "encoding": {"x2": {"field": "t1"}, "strokeDash": {"field": "loc", "type": "nominal", "legend": null}}},
    {"data": {"values": [{"t": 105, "v": 341.8, "label": "Temperature in SCRF"}, {"t": 105, "v": 281.6, "label": "Temperature in SCR"}]},
     "mark": {"type": "text", "align": "left", "baseline": "alphabetic", "fontSize": 46},
     "encoding": {"text": {"field": "label"}}},
    {"data": {"values": [{"t": 600, "v": 0, "v1": 400}]},
     "mark": {"type": "rule", "color": "#231f20", "strokeWidth": 4},
     "encoding": {"y2": {"field": "v1"}}}
   ]
  },
  {
   "width": 1932, "height": 327,
   "encoding": {
    "x": {"field": "t", "type": "quantitative", "scale": {"domain": [0, 600], "nice": false, "zero": false}, "axis": {"values": [0,50,100,150,200,250,300,350,400,450,500,550,600], "labels": false, "ticks": false, "title": null}},
    "y": {"field": "v", "type": "quantitative", "scale": {"domain": [0, 150], "nice": false}, "axis": {"values": [0,25,50,75,100,125,150], "title": ["AdBlue mass flow", "RDU #1 [mg/s]"], "titleX": -257, "titleY": 163.5, "titleAngle": 270, "titleBaseline": "top", "titleAlign": "center", "titleFontSize": 40}}
   },
   "layer": [
    {"data": {"values": [{"t": 300, "t1": 550, "v": 50, "v1": 125}]},
     "mark": {"type": "rect", "fill": "white", "stroke": "#c9c9c9", "strokeWidth": 3},
     "encoding": {"x2": {"field": "t1"}, "y2": {"field": "v1"}}},
    {"data": {"name": "outline"},
     "mark": {"type": "line", "strokeWidth": 4.5},
     "encoding": {
      "color": {"field": "cond", "type": "nominal", "scale": {"domain": ["With EMICAT®", "Without EMICAT®"], "range": ["#e2a431", "#3b4c99"]}, "legend": null},
      "detail": {"field": "seg"},
      "order": {"field": "i", "type": "quantitative"}
     }},
    {"data": {"name": "bars"},
     "mark": {"type": "rect"},
     "encoding": {
      "x2": {"field": "t1"}, "y2": {"datum": 0},
      "color": {"field": "cond", "type": "nominal", "scale": {"domain": ["With EMICAT®", "Without EMICAT®"], "range": ["#e2a431", "#3b4c99"]}, "legend": null}
     }},
    {"data": {"values": [{"t": 344.6, "t1": 378, "v": 104}, {"t": 298.6, "t1": 378, "v": 73.5}]},
     "mark": {"type": "rule", "color": "#231f20", "strokeWidth": 2.5},
     "encoding": {"x2": {"field": "t1"}}},
    {"data": {"values": [{"t": 344.6, "v": 104, "cond": "With EMICAT®"}, {"t": 298.6, "v": 73.5, "cond": "Without EMICAT®"}]},
     "mark": {"type": "point", "shape": "circle", "filled": true, "size": 1000, "stroke": "#231f20", "strokeWidth": 2.5, "opacity": 1},
     "encoding": {"fill": {"field": "cond", "type": "nominal", "scale": {"domain": ["With EMICAT®", "Without EMICAT®"], "range": ["#e2a431", "#3b4c99"]}, "legend": null}}},
    {"data": {"values": [{"t": 387.2, "v": 96.5, "label": "With EMICAT®"}, {"t": 387.2, "v": 65.9, "label": "Without EMICAT®"}]},
     "mark": {"type": "text", "align": "left", "baseline": "alphabetic", "fontSize": 46},
     "encoding": {"text": {"field": "label"}}},
    {"data": {"values": [{"t": 600, "v": 0, "v1": 150}]},
     "mark": {"type": "rule", "color": "#231f20", "strokeWidth": 4},
     "encoding": {"y2": {"field": "v1"}}}
   ]
  },
  {
   "width": 1932, "height": 5,
   "data": {"values": [{"t": 0}]},
   "mark": {"type": "point", "opacity": 0},
   "encoding": {}
  },
  {
   "width": 1932, "height": 231,
   "resolve": {"scale": {"y": "independent"}},
   "layer": [
    {
     "encoding": {
      "x": {"field": "t", "type": "quantitative", "scale": {"domain": [0, 600], "nice": false, "zero": false}, "axis": {"values": [0,50,100,150,200,250,300,350,400,450,500,550,600], "labels": false, "ticks": false, "title": null}},
      "y": {"field": "v", "type": "quantitative", "scale": {"domain": [0, 4000], "nice": false}, "axis": {"orient": "left", "values": [0,1000,2000,3000,4000], "title": ["Power", "[W]"], "titleX": -257, "titleY": 115.5, "titleAngle": 270, "titleBaseline": "top", "titleAlign": "center", "titleFontSize": 44}}
     },
     "layer": [
      {"data": {"values": [{"t": 200, "t1": 550, "v": 470, "v1": 3000}]},
       "mark": {"type": "rect", "fill": "white", "stroke": "#c9c9c9", "strokeWidth": 3},
       "encoding": {"x2": {"field": "t1"}, "y2": {"field": "v1"}}},
      {"data": {"name": "power"},
       "mark": {"type": "line", "color": "#e2a431", "strokeWidth": 3.5}},
      {"data": {"values": [{"t": 210.6, "t1": 255, "v": 1853}]},
       "mark": {"type": "rule", "color": "#e2a431", "strokeWidth": 6},
       "encoding": {"x2": {"field": "t1"}}},
      {"data": {"values": [{"t": 353.5, "t1": 397, "v": 1853}]},
       "mark": {"type": "rule", "color": "#4aa7d8", "strokeWidth": 6, "strokeDash": [22, 10]},
       "encoding": {"x2": {"field": "t1"}}},
      {"data": {"values": [{"t": 266.3, "v": 1922, "label": "EMICAT®"}, {"t": 266.3, "v": 1090, "label": "power"}, {"t": 408.3, "v": 1922, "label": "EMICAT®"}, {"t": 408.3, "v": 1090, "label": "cumulated energy"}]},
       "mark": {"type": "text", "align": "left", "baseline": "alphabetic", "fontSize": 44},
       "encoding": {"text": {"field": "label"}}},
      {"data": {"values": [{"t": 62, "t1": 202, "v": 4727}]},
       "mark": {"type": "rule", "color": "#231f20", "strokeWidth": 3},
       "encoding": {"x2": {"field": "t1"}}},
      {"data": {"values": [{"t": 60.6, "v": 4727, "dir": "left"}, {"t": 204, "v": 4727, "dir": "right"}]},
       "mark": {"type": "point", "filled": true, "size": 1100, "color": "#231f20", "opacity": 1},
       "encoding": {"shape": {"field": "dir", "type": "nominal", "scale": {"domain": ["left", "right"], "range": ["triangle-left", "triangle-right"]}, "legend": null}}},
      {"data": {"values": [{"t": 132.5, "v": 5299, "label": "– 150 s"}]},
       "mark": {"type": "text", "align": "center", "baseline": "middle", "fontSize": 56},
       "encoding": {"text": {"field": "label"}}}
     ]
    },
    {
     "data": {"name": "energy"},
     "mark": {"type": "line", "color": "#4aa7d8", "strokeWidth": 5, "strokeDash": [22, 10]},
     "encoding": {
      "x": {"field": "t", "type": "quantitative", "scale": {"domain": [0, 600], "nice": false, "zero": false}, "axis": {"values": [0,50,100,150,200,250,300,350,400,450,500,550,600], "labels": false, "ticks": false, "title": null}},
      "y": {"field": "e", "type": "quantitative", "scale": {"domain": [0, 80], "nice": false}, "axis": {"orient": "right", "values": [0,20,40,60,80], "grid": false, "title": "Energy [Wh]", "titleColor": "#4aa7d8", "labelColor": "#4aa7d8", "tickColor": "#4aa7d8", "labelAlign": "left", "titleX": 116, "titleY": 113, "titleAngle": 270, "titleBaseline": "top", "titleAlign": "center", "titleFontSize": 46}}
     }
    }
   ]
  },
  {
   "width": 1932, "height": 294,
   "resolve": {"scale": {"y": "independent"}},
   "layer": [
    {
     "data": {"name": "speed"},
     "mark": {"type": "line", "color": "#5f6064", "strokeWidth": 10},
     "encoding": {
      "x": {"field": "t", "type": "quantitative", "scale": {"domain": [0, 600], "nice": false, "zero": false}, "axis": {"values": [0,50,100,150,200,250,300,350,400,450,500,550,600], "title": "Time [sec]", "titleFontSize": 46, "titleColor": "#231f20", "titleX": 966, "titleY": 125, "titleBaseline": "alphabetic", "titleAlign": "center", "labelPadding": 11}},
      "y": {"field": "v", "type": "quantitative", "scale": {"domain": [0, 150], "nice": false}, "axis": {"orient": "left", "values": [0,50,100,150], "title": ["Vehicle speed", "[km/h]"], "titleX": -257, "titleY": 132, "titleAngle": 270, "titleBaseline": "top", "titleAlign": "center", "titleFontSize": 45}}
     }
    },
    {
     "data": {"name": "distance"},
     "mark": {"type": "line", "color": "#b81f6e", "strokeWidth": 12},
     "encoding": {
      "x": {"field": "t", "type": "quantitative", "scale": {"domain": [0, 600], "nice": false, "zero": false}, "axis": {"values": [0,50,100,150,200,250,300,350,400,450,500,550,600], "title": "Time [sec]", "titleFontSize": 46, "titleColor": "#231f20", "titleX": 966, "titleY": 125, "titleBaseline": "alphabetic", "titleAlign": "center", "labelPadding": 11}},
      "y": {"field": "d", "type": "quantitative", "scale": {"domain": [0, 6], "nice": false}, "axis": {"orient": "right", "values": [0,2,4,6], "grid": false, "title": "Distance [km]", "titleColor": "#b81f6e", "labelColor": "#b81f6e", "tickColor": "#b81f6e", "labelAlign": "left", "labelPadding": 13, "titleX": 116, "titleY": 149, "titleAngle": 270, "titleBaseline": "top", "titleAlign": "center", "titleFontSize": 46}}
     }
    }
   ]
  }
 ]
}
